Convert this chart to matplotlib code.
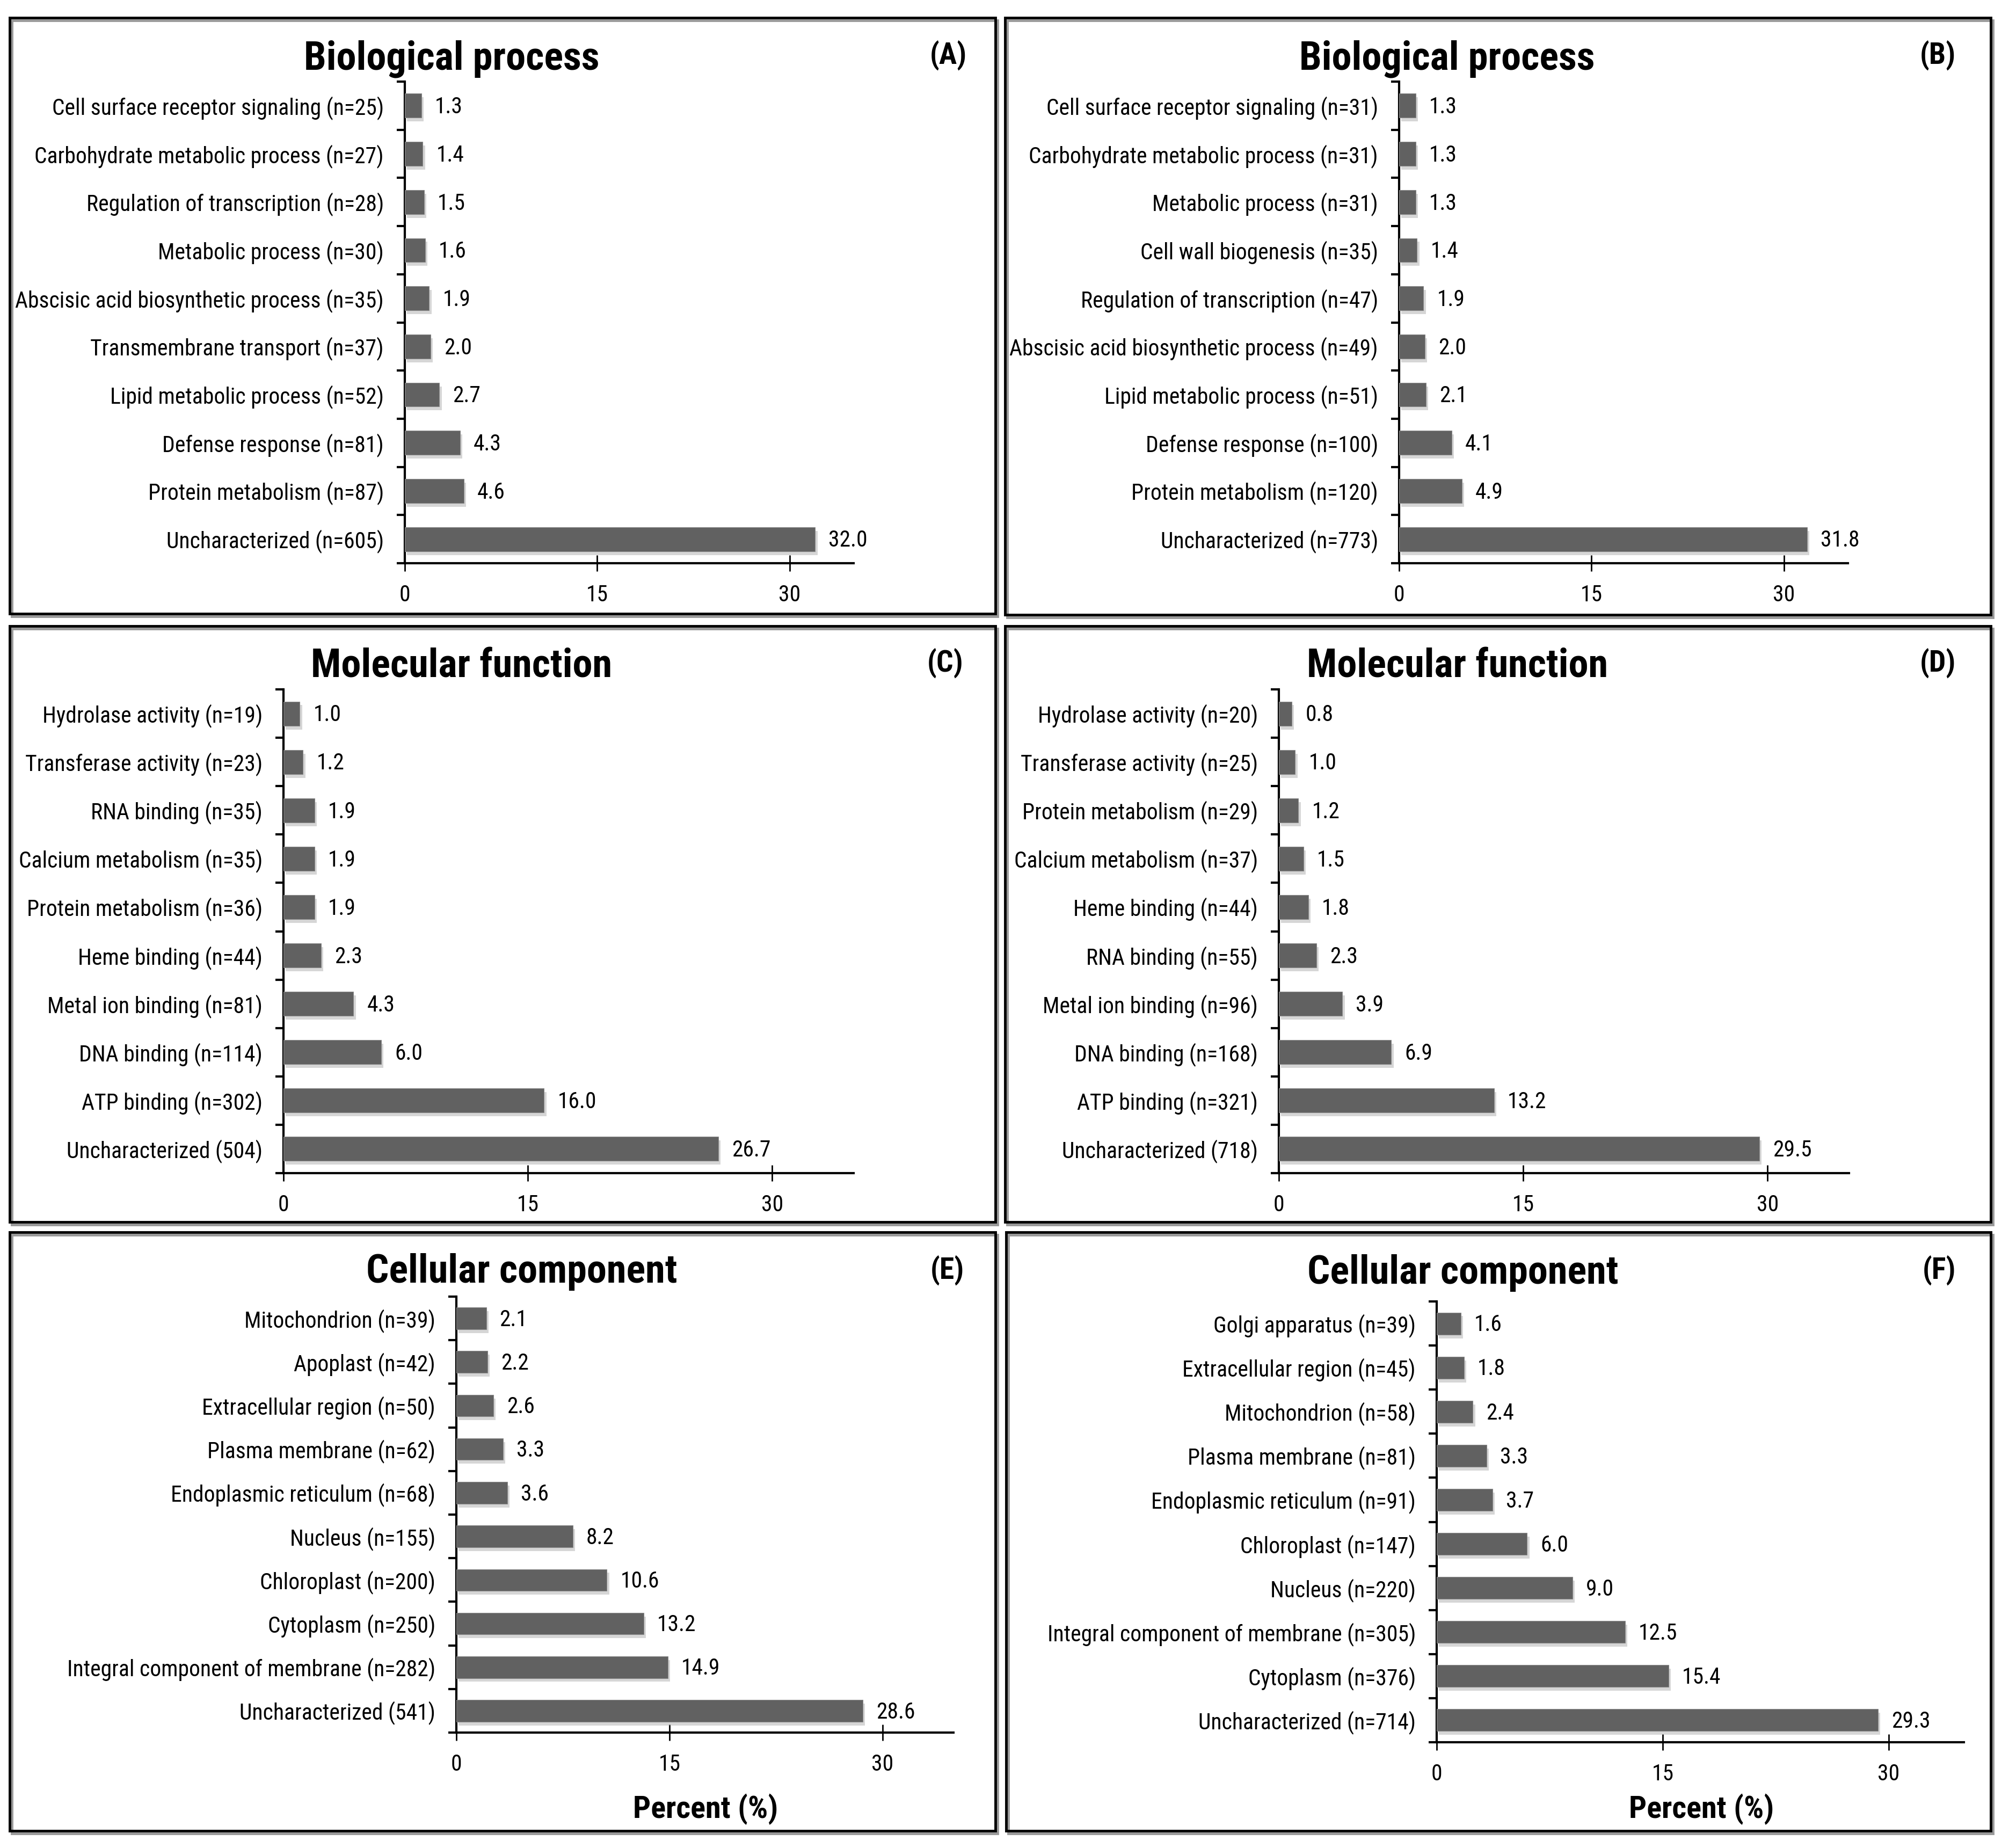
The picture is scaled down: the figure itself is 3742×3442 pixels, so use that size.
import matplotlib
matplotlib.use("Agg")
import matplotlib.pyplot as plt
import matplotlib.patheffects as pe
from matplotlib import font_manager as fm
from matplotlib.patches import Rectangle
from matplotlib.textpath import TextPath
import numpy as np

W, H = 3742, 3442

# (A) biological process, first set
bp_a_labels = ["Cell surface receptor signaling (n=25)", "Carbohydrate metabolic process (n=27)",
               "Regulation of transcription (n=28)", "Metabolic process (n=30)",
               "Abscisic acid biosynthetic process (n=35)", "Transmembrane transport (n=37)",
               "Lipid metabolic process (n=52)", "Defense response (n=81)",
               "Protein metabolism (n=87)", "Uncharacterized (n=605)"]
bp_a_pct = [1.3, 1.4, 1.5, 1.6, 1.9, 2.0, 2.7, 4.3, 4.6, 32.0]

# (B) biological process, second set
bp_b_labels = ["Cell surface receptor signaling (n=31)", "Carbohydrate metabolic process (n=31)",
               "Metabolic process (n=31)", "Cell wall biogenesis (n=35)",
               "Regulation of transcription (n=47)", "Abscisic acid biosynthetic process (n=49)",
               "Lipid metabolic process (n=51)", "Defense response (n=100)",
               "Protein metabolism (n=120)", "Uncharacterized (n=773)"]
bp_b_pct = [1.3, 1.3, 1.3, 1.4, 1.9, 2.0, 2.1, 4.1, 4.9, 31.8]

# (C) molecular function, first set
mf_c_labels = ["Hydrolase activity (n=19)", "Transferase activity (n=23)", "RNA binding (n=35)",
               "Calcium metabolism (n=35)", "Protein metabolism (n=36)", "Heme binding (n=44)",
               "Metal ion binding (n=81)", "DNA binding (n=114)", "ATP binding (n=302)",
               "Uncharacterized (504)"]
mf_c_pct = [1.0, 1.2, 1.9, 1.9, 1.9, 2.3, 4.3, 6.0, 16.0, 26.7]

# (D) molecular function, second set
mf_d_labels = ["Hydrolase activity (n=20)", "Transferase activity (n=25)", "Protein metabolism (n=29)",
               "Calcium metabolism (n=37)", "Heme binding (n=44)", "RNA binding (n=55)",
               "Metal ion binding (n=96)", "DNA binding (n=168)", "ATP binding (n=321)",
               "Uncharacterized (718)"]
mf_d_pct = [0.8, 1.0, 1.2, 1.5, 1.8, 2.3, 3.9, 6.9, 13.2, 29.5]

# (E) cellular component, first set
cc_e_labels = ["Mitochondrion (n=39)", "Apoplast (n=42)", "Extracellular region (n=50)",
               "Plasma membrane (n=62)", "Endoplasmic reticulum (n=68)", "Nucleus (n=155)",
               "Chloroplast (n=200)", "Cytoplasm (n=250)",
               "Integral component of membrane (n=282)", "Uncharacterized (541)"]
cc_e_pct = [2.1, 2.2, 2.6, 3.3, 3.6, 8.2, 10.6, 13.2, 14.9, 28.6]

# (F) cellular component, second set
cc_f_labels = ["Golgi apparatus (n=39)", "Extracellular region (n=45)", "Mitochondrion (n=58)",
               "Plasma membrane (n=81)", "Endoplasmic reticulum (n=91)", "Chloroplast (n=147)",
               "Nucleus (n=220)", "Integral component of membrane (n=305)", "Cytoplasm (n=376)",
               "Uncharacterized (n=714)"]
cc_f_pct = [1.6, 1.8, 2.4, 3.3, 3.7, 6.0, 9.0, 12.5, 15.4, 29.3]

x_ticks = [0, 15, 30]

# the original uses a narrow font (Calibri); take a condensed one if there is one
names = {f.name for f in fm.fontManager.ttflist}
family, stretch = None, 'normal'
for c in ['Liberation Sans Narrow', 'Roboto Condensed', 'Open Sans Condensed',
          'Noto Sans Condensed', 'Noto Sans SemiCondensed', 'DejaVu Sans Condensed']:
    if c in names:
        family = c
        break
if family is None:
    for f in fm.fontManager.ttflist:
        if f.stretch in ('condensed', 'semi-condensed') and f.name in (
                'DejaVu Sans', 'Noto Sans', 'Roboto', 'Open Sans', 'Liberation Sans'):
            family, stretch = f.name, f.stretch
            break
if family is None:
    family = 'Liberation Sans' if 'Liberation Sans' in names else 'DejaVu Sans'
plt.rcParams['font.family'] = [family, 'DejaVu Sans']
plt.rcParams['font.stretch'] = stretch


def fit_size(text, target_px, max_size, weight='normal'):
    # font size that gives the text the width it has in the reference
    prop = fm.FontProperties(family=family, stretch=stretch, weight=weight, size=max_size)
    w = TextPath((0, 0), text, prop=prop).get_extents().width * 100 / 72
    return min(max_size, max_size * target_px / w)


fs_tick = fit_size("Abscisic acid biosynthetic process (n=35)", 691, 30)
fs_title = fit_size("Biological process", 543, 55, 'bold')
fs_letter = fit_size("(A)", 67, 40, 'bold')
fs_xlab = fit_size("Percent (%)", 264, 42, 'bold')


def fx(px):
    return px / W


def fy(py):
    return 1 - py / H


fig = plt.figure(figsize=(W / 100, H / 100), dpi=100)

# title, letter, labels, values, axes box (px: left, top, right, bottom),
# frame (px: left, top, right, bottom), title (cx, baseline), letter (cx, cy), xlabel
panels = [
    ("Biological process", "(A)", bp_a_labels, bp_a_pct, (754, 152, 1590, 1049),
     (18, 33, 1854, 1143), (841, 129), (1766, 104), None),
    ("Biological process", "(B)", bp_b_labels, bp_b_pct, (2606, 152, 3442, 1049),
     (1872, 33, 3708, 1145), (2695, 129), (3609, 104), None),
    ("Molecular function", "(C)", mf_c_labels, mf_c_pct, (528, 1284, 1590, 2185),
     (18, 1166, 1854, 2276), (860, 1262), (1761, 1236), None),
    ("Molecular function", "(D)", mf_d_labels, mf_d_pct, (2382, 1284, 3444, 2185),
     (1872, 1166, 3708, 2276), (2715, 1262), (3609, 1236), None),
    ("Cellular component", "(E)", cc_e_labels, cc_e_pct, (850, 2415, 1776, 3227),
     (18, 2295, 1854, 3410), (972, 2389), (1764, 2367), (1314, 3386)),
    ("Cellular component", "(F)", cc_f_labels, cc_f_pct, (2676, 2424, 3658, 3245),
     (1874, 2295, 3708, 3410), (2725, 2391), (3612, 2367), (3169, 3386)),
]

for title, letter, labels, pct, box, frame, tpos, lpos, xlab in panels:
    l, t, r, b = box
    ax = fig.add_axes([fx(l), fy(b), fx(r) - fx(l), (b - t) / H])
    n = len(labels)
    ypos = np.arange(n)
    bars = ax.barh(ypos, pct, height=0.5, color='#616161', edgecolor='#8a8a8a',
                   linewidth=0.8, zorder=3)
    for bar in bars:
        bar.set_path_effects([pe.SimplePatchShadow(offset=(3, -5), shadow_rgbFace='0.6',
                                                   alpha=0.4), pe.Normal()])
    for yv, v in zip(ypos, pct):
        ax.annotate(f"{v:.1f}", xy=(v, yv), xytext=(18, -2), textcoords='offset points',
                    ha='left', va='center', fontsize=fs_tick)

    ax.set_xlim(0, 35)
    ax.set_ylim(n - 0.5, -0.5)
    ax.set_xticks(x_ticks)
    ax.set_xticklabels([str(v) for v in x_ticks], fontsize=fs_tick)
    ax.set_yticks(ypos)
    ax.set_yticklabels(labels, fontsize=fs_tick)
    ax.set_yticks(np.arange(-0.5, n), minor=True)
    ax.tick_params(axis='y', which='major', length=0, pad=28)
    ax.tick_params(axis='y', which='minor', length=11, width=3, direction='out')
    ax.tick_params(axis='x', which='major', direction='inout', length=22, width=2, pad=17)
    for s in ['top', 'right']:
        ax.spines[s].set_visible(False)
    for s in ['left', 'bottom']:
        ax.spines[s].set_linewidth(3)
    ax.patch.set_alpha(0)

    fl, ft, fr, fb = frame
    fig.patches.append(Rectangle((fx(fl) + 4 / W, fy(fb) - 5 / H), fx(fr) - fx(fl), (fb - ft) / H,
                                 transform=fig.transFigure, fill=False, edgecolor='0.6',
                                 linewidth=3.5, zorder=0))
    fig.patches.append(Rectangle((fx(fl), fy(fb)), fx(fr) - fx(fl), (fb - ft) / H,
                                 transform=fig.transFigure, fill=False, edgecolor='black',
                                 linewidth=3.5, zorder=1))

    fig.text(fx(tpos[0]), fy(tpos[1]), title, ha='center', va='baseline',
             fontsize=fs_title, fontweight='bold')
    fig.text(fx(lpos[0]), fy(lpos[1]), letter, ha='center', va='center',
             fontsize=fs_letter, fontweight='bold')
    if xlab:
        fig.text(fx(xlab[0]), fy(xlab[1]), "Percent (%)", ha='center', va='baseline',
                 fontsize=fs_xlab, fontweight='bold')

fig.savefig("out.png", dpi=100)
